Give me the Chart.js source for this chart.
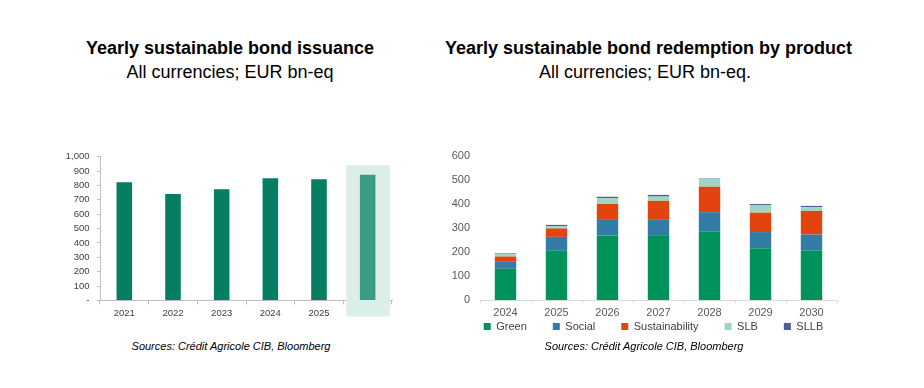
<!DOCTYPE html>
<html>
<head>
<meta charset="utf-8">
<script src="https://cdn.jsdelivr.net/npm/chart.js@4.4.1/dist/chart.umd.min.js"></script>
<style>
    body { margin: 0; background: #fff; width: 924px; height: 388px; position: relative; overflow: hidden;
           font-family: "Liberation Sans", Arial, sans-serif; }
    .title { position: absolute; text-align: center; color: #000; font-size: 18px; line-height: 24px; white-space: nowrap; }
    .title b { font-weight: bold; }
    .src { position: absolute; font-style: italic; font-size: 11px; color: #000; text-align: center; white-space: nowrap; }
    .box { position: absolute; }
</style>
</head>
<body>
<div class="title" style="left:30px; top:36px; width:400px;"><b>Yearly sustainable bond issuance</b><br>All currencies; EUR bn-eq</div>
<div class="title" style="left:445px; top:36px; width:400px;"><b>Yearly sustainable bond redemption by product</b><br>All currencies; EUR bn-eq.</div>

<div class="box" style="left:60px; top:145px; width:345px; height:180px;"><canvas id="issuanceChart"></canvas></div>
<div class="box" style="left:440px; top:145px; width:400px; height:215px;"><canvas id="redemptionChart"></canvas></div>

<div class="src" style="left:31px; top:340px; width:400px;">Sources: Crédit Agricole CIB, Bloomberg</div>
<div class="src" style="left:444px; top:340px; width:400px;">Sources: Crédit Agricole CIB, Bloomberg</div>

<script>
// Issuance (left chart)
const issuanceYears = ['2021', '2022', '2023', '2024', '2025', 'F2026'];
const issuanceValues = [822, 740, 773, 850, 843, 875];
const issuanceTicks = [0, 100, 200, 300, 400, 500, 600, 700, 800, 900, 1000];

// Redemption by product (right chart)
const redemptionYears = ['2024', '2025', '2026', '2027', '2028', '2029', '2030'];
const greenValues = [130, 205, 269, 267, 285, 216, 206];
const socialValues = [29, 58, 68, 67, 81, 67, 67];
const sustainabilityValues = [22, 35, 63, 79, 106, 81, 98];
const slbValues = [10, 10, 24, 18, 32, 32, 16];
const sllbValues = [3, 5, 6, 7, 2, 4, 5];

const smallFont = { family: '"Liberation Sans", Arial, sans-serif', size: 9.5 };
const rightFont = { family: '"Liberation Sans", Arial, sans-serif', size: 11 };

// y axis: fixed width, no extra top/bottom padding (layout padding places the plot)
function fixYAxis(s) {
    s.width = 40;
    s.paddingTop = 0;
    s.paddingBottom = 0;
}

// light band behind the forecast year
const forecastBand = {
    id: 'forecastBand',
    beforeDatasetsDraw(chart) {
        const x = chart.scales.x, y = chart.scales.y;
        const idx = issuanceYears.indexOf('F2026');
        const half = (x.getPixelForValue(1) - x.getPixelForValue(0)) / 2;
        const cx = x.getPixelForValue(idx);
        const ctx = chart.ctx;
        ctx.save();
        ctx.fillStyle = '#dcefe7';
        const top = y.getPixelForValue(940);
        ctx.fillRect(cx - half + 3, top, half * 2 - 5, chart.chartArea.bottom + 16 - top);
        ctx.restore();
    }
};

// move the legend up under the category labels and a little right
const legendNudge = {
    id: 'legendNudge',
    afterLayout(chart) {
        const lg = chart.legend;
        if (!lg) return;
        lg.top -= 25;
        lg.bottom -= 25;
        lg.left += 15;
        lg.right += 15;
    }
};

new Chart(document.getElementById('issuanceChart').getContext('2d'), {
    type: 'bar',
    data: {
        labels: issuanceYears,
        datasets: [{
            data: issuanceValues,
            backgroundColor: issuanceYears.map(l => l.startsWith('F') ? '#3a9c86' : '#067e64'),
            barPercentage: 0.32,
            categoryPercentage: 1
        }]
    },
    plugins: [forecastBand],
    options: {
        responsive: true,
        maintainAspectRatio: false,
        animation: false,
        layout: { padding: { top: 11.7, right: 13, bottom: 4.5 } },
        plugins: { legend: { display: false }, tooltip: { enabled: false } },
        scales: {
            x: {
                offset: true,
                grid: { display: true, drawOnChartArea: false, offset: true, tickLength: 4, color: '#bfbfbf' },
                border: { color: '#bfbfbf' },
                ticks: { color: '#404040', font: smallFont, padding: 3 },
                afterFit(s) { s.height = 20; }
            },
            y: {
                min: 0, max: 1000,
                afterBuildTicks(s) { s.ticks = issuanceTicks.map(v => ({ value: v })); },
                grid: { display: true, drawOnChartArea: false, tickLength: 3, color: '#bfbfbf' },
                border: { color: '#bfbfbf' },
                ticks: {
                    autoSkip: false,
                    color: '#404040', font: smallFont, padding: 7.5,
                    callback: v => v === 0 ? '-' : v.toLocaleString('en-US')
                },
                afterFit: fixYAxis
            }
        }
    }
});

new Chart(document.getElementById('redemptionChart').getContext('2d'), {
    type: 'bar',
    data: {
        labels: redemptionYears,
        datasets: [
            { label: 'Green', data: greenValues, backgroundColor: '#00925b' },
            { label: 'Social', data: socialValues, backgroundColor: '#327ca6' },
            { label: 'Sustainability', data: sustainabilityValues, backgroundColor: '#e2430f' },
            { label: 'SLB', data: slbValues, backgroundColor: '#9ed6bf' },
            { label: 'SLLB', data: sllbValues, backgroundColor: '#4a5d9c' }
        ].map(d => Object.assign(d, { barPercentage: 0.42, categoryPercentage: 1 }))
    },
    plugins: [legendNudge],
    options: {
        responsive: true,
        maintainAspectRatio: false,
        animation: false,
        layout: { padding: { top: 11, right: 3, bottom: 0 } },
        plugins: {
            tooltip: { enabled: false },
            legend: {
                position: 'bottom',
                align: 'center',
                maxHeight: 40,
                labels: {
                    boxWidth: 7, boxHeight: 7, padding: 26,
                    color: '#404040',
                    font: rightFont
                }
            }
        },
        scales: {
            x: {
                stacked: true,
                grid: { display: true, drawOnChartArea: false, offset: true, tickLength: 3, color: '#d9d9d9' },
                border: { color: '#d9d9d9' },
                ticks: { color: '#595959', font: rightFont, padding: 3 },
                afterFit(s) { s.height = 20; }
            },
            y: {
                stacked: true,
                min: 0, max: 600,
                grid: { display: false, drawTicks: false },
                border: { display: false },
                ticks: { stepSize: 100, color: '#595959', font: rightFont, padding: 10 },
                afterFit: fixYAxis
            }
        }
    }
});
</script>
</body>
</html>
